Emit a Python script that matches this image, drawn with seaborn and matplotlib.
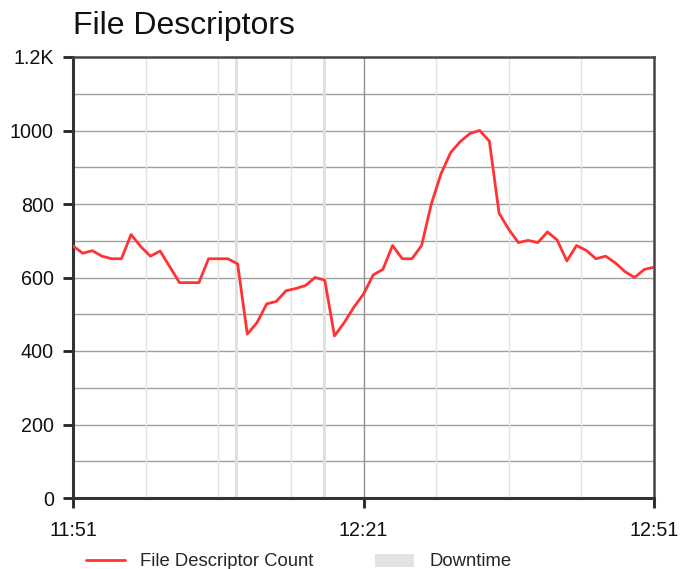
import matplotlib
matplotlib.use("Agg")
import matplotlib.pyplot as plt
import seaborn as sns
import pandas as pd
from matplotlib.lines import Line2D
from matplotlib.patches import Patch

minutes = list(range(61))
fd_count = [686, 666, 673, 658, 651, 651, 717, 684, 658, 672,
            629, 586, 586, 586, 651, 651, 651, 637, 446, 477,
            528, 535, 564, 570, 578, 600, 593, 441, 477, 519,
            555, 607, 622, 687, 651, 651, 687, 800, 882, 940,
            970, 992, 1000, 971, 775, 731, 695, 701, 695, 724,
            702, 645, 687, 674, 651, 658, 640, 616, 600, 622, 628]
downtime_minutes = [16.9, 25.95]
x_tick_pos = [0, 30, 60]
x_tick_labels = ["11:51", "12:21", "12:51"]
y_tick_pos = [0, 200, 400, 600, 800, 1000, 1200]
y_tick_labels = ["0", "200", "400", "600", "800", "1000", "1.2K"]

df = pd.DataFrame({"minute": minutes, "count": fd_count})

sns.set_theme(style="white")
plt.rcParams["font.family"] = ["Liberation Sans", "DejaVu Sans"]

fig = plt.figure(figsize=(6.83, 5.69), dpi=100)
ax = fig.add_axes([73/683, 1-498/569, (654-73)/683, (498-57)/569])

# grid
for v in range(100, 1200, 100):
    ax.axhline(v, color="#a0a0a0", lw=1.0, zorder=1)
for m in [7.5, 15, 22.5, 37.5, 45, 52.5]:
    ax.axvline(m, color="#e3e3e3", lw=1.0, zorder=1)
ax.axvline(30, color="#909090", lw=1.0, zorder=1)

for d in downtime_minutes:
    ax.axvspan(d - 0.15, d + 0.15, color="#e0e0e0", lw=0, zorder=1.5)

sns.lineplot(data=df, x="minute", y="count", ax=ax, color="#ff3333",
             lw=2.0, zorder=3, legend=False)

ax.set_xlim(0, 60)
ax.set_ylim(0, 1200)
ax.set_xticks(x_tick_pos)
ax.set_xticklabels(x_tick_labels)
ax.set_yticks(y_tick_pos)
ax.set_yticklabels(y_tick_labels)
ax.set_xlabel("")
ax.set_ylabel("")
ax.tick_params(axis="both", which="major", direction="out", length=7.2,
               width=2, color="#222222", labelsize=14.2, labelcolor="#111111",
               left=True, bottom=True)
ax.tick_params(axis="y", pad=6.5)
ax.tick_params(axis="x", pad=9)

for side in ["left", "bottom"]:
    ax.spines[side].set_color("#333333")
    ax.spines[side].set_linewidth(2.2)
for side in ["top", "right"]:
    ax.spines[side].set_color("#444444")
    ax.spines[side].set_linewidth(1.8)

fig.text(73/683, 1-26/569, "File Descriptors", fontsize=23, color="#111111",
         ha="left", va="center")

handles = [Line2D([0], [0], color="#ff3333", lw=2.0),
           Patch(facecolor="#e3e3e3", edgecolor="none")]
fig.legend(handles, ["File Descriptor Count", "Downtime"], loc="center left",
           bbox_to_anchor=(86/683, 1-562/569), ncol=2, frameon=False,
           fontsize=13.3, handlelength=2.1, handletextpad=0.85, columnspacing=3.3,
           borderaxespad=0, borderpad=0)

fig.savefig("out.png", dpi=100)
